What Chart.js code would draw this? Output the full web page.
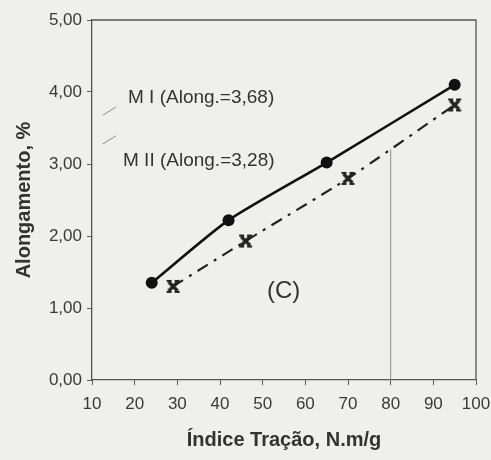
<!DOCTYPE html>
<html>
<head>
<meta charset="utf-8">
<script src="https://cdn.jsdelivr.net/npm/chart.js@4/dist/chart.umd.min.js"></script>
<style>
  html, body { margin: 0; padding: 0; background: #efefec; }
  #wrap { width: 491px; height: 460px; }
</style>
</head>
<body>
<div id="wrap"><canvas id="chart" width="491" height="460"></canvas></div>
<script>
// Dados (C)
const mIx = [24, 42, 65, 95];
const mIy = [1.35, 2.22, 3.02, 4.10];
const mIIx = [29, 46, 70, 95];
const mIIy = [1.30, 1.93, 2.80, 3.82];
const xTicks = [10, 20, 30, 40, 50, 60, 70, 80, 90, 100];
const yTicks = [0, 1, 2, 3, 4, 5];
const mILabel = 'M I (Along.=3,68)';
const mIILabel = 'M II (Along.=3,28)';
const mIAlong = 3.68;
const mIIAlong = 3.28;
const refX = 80;
const refTop = 3.2;

const FAMILY = '"Liberation Sans", Arial, sans-serif';

function toPoints(xs, ys) {
    return xs.map((x, i) => ({ x: x, y: ys[i] }));
}

// Marcador "X" com barras (série M II)
function makeStar() {
    const c = document.createElement('canvas');
    c.width = 15; c.height = 15;
    const g = c.getContext('2d');
    g.strokeStyle = '#222';
    g.lineWidth = 3.2;
    g.beginPath();
    g.moveTo(3, 3); g.lineTo(12, 12);
    g.moveTo(12, 3); g.lineTo(3, 12);
    g.stroke();
    g.lineWidth = 1.8;
    g.beginPath();
    g.moveTo(1, 2); g.lineTo(6, 2);
    g.moveTo(9, 2); g.lineTo(14, 2);
    g.moveTo(1, 13); g.lineTo(6, 13);
    g.moveTo(9, 13); g.lineTo(14, 13);
    g.stroke();
    return c;
}

// Moldura, linha de referência e anotações
const extras = {
    id: 'extras',
    beforeDatasetsDraw(chart) {
        const ctx = chart.ctx;
        const a = chart.chartArea;
        const xs = chart.scales.x, ys = chart.scales.y;
        ctx.save();
        // linha de referência em x=80
        ctx.strokeStyle = '#8a8a88';
        ctx.lineWidth = 1;
        ctx.beginPath();
        ctx.moveTo(xs.getPixelForValue(refX), ys.getPixelForValue(0));
        ctx.lineTo(xs.getPixelForValue(refX), ys.getPixelForValue(refTop));
        ctx.stroke();
        // moldura superior e direita
        ctx.strokeStyle = '#555';
        ctx.lineWidth = 1.3;
        ctx.beginPath();
        ctx.moveTo(a.left, a.top);
        ctx.lineTo(a.right, a.top);
        ctx.lineTo(a.right, a.bottom);
        ctx.stroke();
        // textos
        ctx.fillStyle = '#333';
        ctx.font = '19px ' + FAMILY;
        ctx.textBaseline = 'middle';
        ctx.fillText(mILabel, 128, 98);
        ctx.fillText(mIILabel, 123, 161);
        ctx.font = '24px ' + FAMILY;
        ctx.fillText('(C)', 267, 291);
        // setinhas
        ctx.strokeStyle = '#888';
        ctx.lineWidth = 1;
        const y1 = ys.getPixelForValue(mIAlong);
        const y2 = ys.getPixelForValue(mIIAlong);
        ctx.beginPath();
        ctx.moveTo(a.left + 24, y1 - 8);
        ctx.lineTo(a.left + 11, y1);
        ctx.moveTo(a.left + 24, y2 - 8);
        ctx.lineTo(a.left + 11, y2);
        ctx.stroke();
        ctx.restore();
    }
};

const tickFont = { family: FAMILY, size: 17 };
const titleFont = { family: FAMILY, size: 20, weight: 'bold' };

new Chart(document.getElementById('chart'), {
    type: 'scatter',
    data: {
        datasets: [{
            label: 'M I',
            data: toPoints(mIx, mIy),
            showLine: true,
            borderColor: '#111',
            backgroundColor: '#111',
            borderWidth: 2.6,
            tension: 0.2,
            pointStyle: 'circle',
            pointRadius: 6,
            pointBorderWidth: 0
        }, {
            label: 'M II',
            data: toPoints(mIIx, mIIy),
            showLine: true,
            borderColor: '#222',
            backgroundColor: '#222',
            borderWidth: 2.2,
            borderDash: [12, 7, 3, 7],
            tension: 0.2,
            pointStyle: makeStar(),
            pointRadius: 7
        }]
    },
    options: {
        responsive: false,
        animation: false,
        layout: { padding: { left: 8, right: 15, top: 20, bottom: 0 } },
        plugins: {
            legend: { display: false },
            tooltip: { enabled: false }
        },
        scales: {
            x: {
                type: 'linear',
                min: 10,
                max: 100,
                afterFit(scale) {
                    scale.height = 80;
                    scale.paddingLeft = 0;
                    scale.paddingRight = 0;
                },
                afterBuildTicks(scale) { scale.ticks = xTicks.map(v => ({ value: v })); },
                border: { color: '#555', width: 1.3 },
                grid: { drawOnChartArea: false, tickLength: 5, color: '#555' },
                ticks: { font: tickFont, color: '#3a3a3a', padding: 9, maxRotation: 0 },
                title: {
                    display: true,
                    text: 'Índice Tração, N.m/g',
                    font: titleFont,
                    color: '#333',
                    padding: { top: 4, bottom: 8 }
                }
            },
            y: {
                type: 'linear',
                min: 0,
                max: 5,
                afterFit(scale) {
                    scale.width = 84;
                    scale.paddingTop = 0;
                    scale.paddingBottom = 0;
                },
                afterBuildTicks(scale) { scale.ticks = yTicks.map(v => ({ value: v })); },
                border: { color: '#555', width: 1.3 },
                grid: { drawOnChartArea: false, tickLength: 5, color: '#555' },
                ticks: {
                    font: tickFont,
                    color: '#3a3a3a',
                    padding: 5,
                    callback: v => v.toFixed(2).replace('.', ',')
                },
                title: {
                    display: true,
                    text: 'Alongamento, %',
                    font: titleFont,
                    color: '#333',
                    padding: { top: 4, bottom: 2 }
                }
            }
        }
    },
    plugins: [extras]
});
</script>
</body>
</html>
